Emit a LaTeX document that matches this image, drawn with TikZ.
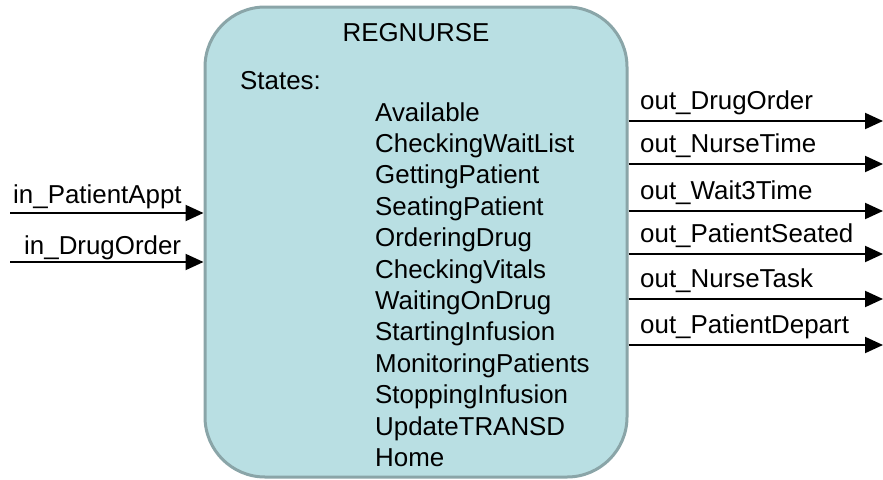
\documentclass[tikz,border=0pt]{standalone}
\usepackage{fontspec}
\setmainfont{Liberation Sans}
\usetikzlibrary{arrows.meta}
\definecolor{boxfill}{HTML}{B9DFE3}
\definecolor{boxedge}{HTML}{8AA5A8}
\begin{document}
\begin{tikzpicture}[x=1pt,y=-1pt,
  txt/.style={anchor=base west,inner sep=0pt,font=\fontsize{25.9}{30}\selectfont},
  port/.style={line width=2pt,-{Triangle[length=18pt,width=16pt]}},
  block/.style={draw=boxedge,line width=3pt,fill=boxfill,rounded corners=60pt,
    minimum width=422pt,minimum height=470pt,inner sep=0pt}]
\useasboundingbox (0,0) rectangle (883,479);

% the coupled model block
\node[block] (regnurse) at (416,242) {};
\node[txt,anchor=base] (title) at (416,41) {REGNURSE};
\node[txt] (states) at (240,89) {States:};
\foreach \s [count=\i from 0] in {Available,CheckingWaitList,GettingPatient,
  SeatingPatient,OrderingDrug,CheckingVitals,WaitingOnDrug,StartingInfusion,
  MonitoringPatients,StoppingInfusion,UpdateTRANSD,Home}
  \node[txt] (st\i) at (375,{121+31.4*\i}) {\s};

% input ports
\coordinate (inA) at (10,213);
\coordinate (inB) at (10,262);
\draw[port] (inA) -- (inA -| regnurse.west);
\draw[port] (inB) -- (inB -| regnurse.west);
\node[txt] (lblA) at (13,203) {in\_PatientAppt};
\node[txt] (lblB) at (24,254) {in\_DrugOrder};

% output ports
\foreach \n/\y/\t in {1/121/out\_DrugOrder,2/164/out\_NurseTime,3/211/out\_Wait3Time,
  4/254/out\_PatientSeated,5/299/out\_NurseTask,6/345/out\_PatientDepart}{
  \coordinate (out\n) at (883,\y);
  \draw[port] (out\n -| regnurse.east) -- (out\n);
  \node[txt] (lblout\n) at (640,{\y-12}) {\t};
}
\end{tikzpicture}
\end{document}
